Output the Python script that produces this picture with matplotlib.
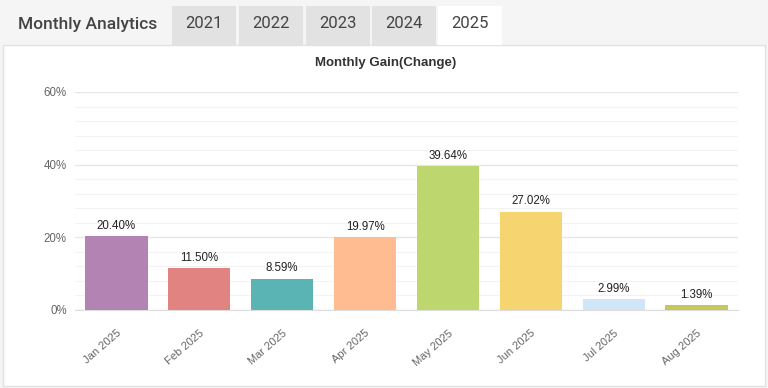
import matplotlib
matplotlib.use('Agg')
import matplotlib.pyplot as plt
from matplotlib.patches import Rectangle
from matplotlib.ticker import MultipleLocator, FuncFormatter

plt.rcParams['font.family'] = ['Roboto', 'DejaVu Sans']

# data
months = ['Jan 2025', 'Feb 2025', 'Mar 2025', 'Apr 2025',
          'May 2025', 'Jun 2025', 'Jul 2025', 'Aug 2025']
gains = [20.40, 11.50, 8.59, 19.97, 39.64, 27.02, 2.99, 1.39]
bar_colors = ['#b283b3', '#e08381', '#5ab4b3', '#ffbc91',
              '#bdd76e', '#f6d46f', '#d0e6f8', '#c6c85a']
tabs = ['2021', '2022', '2023', '2024', '2025']

W, H = 768, 388
fig = plt.figure(figsize=(W / 100, H / 100), dpi=100)
fig.patch.set_facecolor('#f5f5f5')
chart_font = ['Liberation Sans', 'DejaVu Sans']

def box(x0, y0, x1, y1, **kw):
    # pixel coords from top-left
    r = Rectangle((x0 / W, 1 - y1 / H), (x1 - x0) / W, (y1 - y0) / H,
                  transform=fig.transFigure, zorder=-5, **kw)
    fig.add_artist(r)

# white panel
box(3, 45, 765, 386, facecolor='white', edgecolor='#e2e2e2', lw=1)

# tab header
fig.text(18 / W, 1 - 24 / H, 'Monthly Analytics', fontsize=12.5, color='#444444',
         va='center', ha='left', fontweight='medium')
tab_x = [172, 239, 306, 372, 438]
for t, x0 in zip(tabs, tab_x):
    active = t == '2025'
    box(x0, 6, x0 + 64, 45, facecolor='white' if active else '#e2e2e2', edgecolor='none')
    fig.text((x0 + 32) / W, 1 - 24 / H, t, fontsize=12, color='#444444',
             ha='center', va='center')

# chart
ax = fig.add_axes([75 / W, 1 - 310 / H, (738 - 75) / W, (310 - 92) / H], zorder=2)
ax.set_facecolor('none')
x = list(range(len(months)))
bars = ax.bar(x, gains, width=0.75, color=bar_colors, zorder=3)
for xi, g in zip(x, gains):
    ax.text(xi, g + 1.2, '%.2f%%' % g, ha='center', va='bottom', fontsize=8.3,
            color='#222222', zorder=4, family=chart_font)

ax.set_xlim(-0.5, len(months) - 0.5)
ax.set_ylim(0, 60)
ax.yaxis.set_major_locator(MultipleLocator(20))
ax.yaxis.set_minor_locator(MultipleLocator(4))
ax.yaxis.set_major_formatter(FuncFormatter(lambda v, p: '%d%%' % v))
ax.grid(axis='y', which='major', color='#e6e6e6', lw=1, zorder=0)
ax.grid(axis='y', which='minor', color='#f3f3f3', lw=0.8, zorder=0)
ax.tick_params(axis='y', which='both', length=0, labelsize=8.3, labelcolor='#666666', pad=6)
ax.set_xticks(x)
ax.set_xticklabels(months, rotation=41, ha='right', rotation_mode='anchor',
                   fontsize=8, color='#666666')
for lab in ax.get_xticklabels() + ax.get_yticklabels():
    lab.set_family(chart_font)
ax.tick_params(axis='x', length=0, pad=13)
for s in ['top', 'right', 'left']:
    ax.spines[s].set_visible(False)
ax.spines['bottom'].set_color('#dddddd')

fig.text(386 / W, 1 - 63 / H, 'Monthly Gain(Change)', fontsize=9.5, fontweight='bold',
         color='#333333', ha='center', va='center', family=chart_font)

fig.savefig('out.png', dpi=100, facecolor=fig.get_facecolor())
